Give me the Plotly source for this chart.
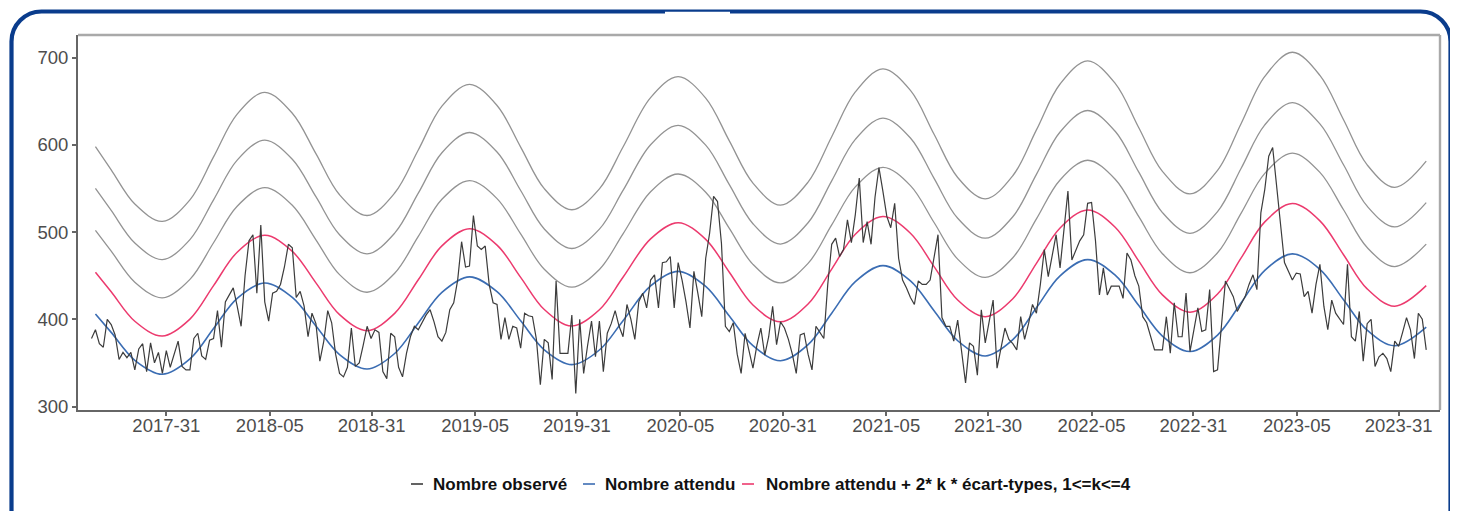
import numpy as np
import pandas as pd
import plotly.graph_objects as go

# ---------------- data ----------------
first_week = "2017-03-21"          # date of the first weekly observation
observed = [
    378, 388, 372, 368, 400, 394, 382, 354, 362, 356,
    362, 342, 366, 372, 340, 373, 350, 362, 338, 364,
    345, 360, 375, 346, 342, 342, 378, 384, 358, 354,
    376, 378, 410, 368, 420, 428, 436, 415, 392, 450,
    490, 497, 430, 508, 420, 398, 430, 432, 440, 460,
    486, 482, 425, 432, 415, 380, 407, 395, 352, 375,
    410, 396, 360, 338, 334, 345, 390, 346, 350, 370,
    392, 378, 388, 385, 340, 332, 384, 380, 345, 334,
    361, 380, 392, 388, 397, 405, 411, 397, 380, 375,
    385, 411, 419, 445, 489, 460, 461, 519, 484, 480,
    484, 440, 419, 417, 377, 402, 377, 392, 390, 367,
    407, 404, 403, 377, 325, 377, 373, 331, 444, 361,
    361, 361, 405, 315, 400, 338, 370, 398, 357, 398,
    340, 384, 395, 410, 392, 380, 417, 400, 377, 420,
    430, 413, 445, 451, 413, 465, 466, 472, 413, 465,
    445, 420, 390, 455, 430, 403, 470, 499, 541, 535,
    487, 392, 386, 396, 360, 338, 384, 364, 344, 370,
    390, 359, 380, 415, 371, 397, 390, 377, 360, 338,
    382, 384, 360, 342, 392, 385, 378, 440, 486, 493,
    472, 480, 514, 488, 520, 562, 488, 512, 486, 540,
    574, 547, 518, 505, 533, 470, 445, 436, 425, 417,
    444, 440, 440, 445, 470, 497, 402, 392, 392, 375,
    399, 360, 327, 373, 369, 336, 411, 373, 400, 422,
    344, 365, 390, 377, 372, 365, 403, 377, 395, 417,
    407, 440, 480, 449, 475, 497, 459, 500, 547, 468,
    478, 490, 497, 533, 534, 490, 428, 459, 428, 438,
    438, 438, 424, 476, 468, 450, 438, 403, 396, 380,
    365, 365, 365, 403, 361, 419, 380, 380, 430, 363,
    390, 413, 386, 388, 434, 340, 342, 395, 444, 435,
    426, 409, 418, 426, 440, 451, 434, 522, 549, 587,
    597, 553, 510, 465, 455, 445, 453, 452, 426, 432,
    407, 440, 463, 415, 388, 422, 407, 400, 394, 463,
    380, 375, 409, 352, 395, 400, 346, 357, 361, 355,
    340, 375, 369, 385, 402, 388, 355, 407, 400, 365,
]

# weeks (index from first_week) at which the expected curve was read
exp_week_index = [
    1, 5, 11, 18, 25, 31, 37, 44, 51, 57, 63, 70, 77, 83, 89, 96,
    103, 109, 115, 122, 129, 135, 142, 149, 156, 162, 168, 175,
    182, 188, 194, 201, 208, 214, 220, 227, 234, 240, 246, 253,
    260, 266, 272, 279, 286, 292, 298, 305, 312, 318, 324, 331, 339,
]
expected = [
    406, 385, 353, 337, 354.6, 389.4, 424.1, 441.7, 425.1, 392.4, 359.6, 343,
    360.8, 395.8, 430.8, 448.6, 431.6, 398.3, 365, 348, 364.8, 398.4, 438.2,
    455, 437.7, 403.8, 369.8, 352.5, 370.9, 407, 443.1, 461.5, 444.1, 409.8,
    375.4, 358, 376.6, 413.2, 449.8, 468.4, 450.6, 415.7, 380.8, 363, 381.9,
    419, 456.1, 475, 457.3, 422.4, 387.5, 369.7, 391,
]
ecart_type = [
    24.0, 23.3, 22.4, 21.9, 22.8, 24.6, 26.4, 27.3, 26.4, 24.7, 22.9, 22.0,
    23.0, 24.8, 26.7, 27.6, 26.7, 24.9, 23.1, 22.2, 23.1, 24.9, 27.0, 27.9,
    27.0, 25.1, 23.3, 22.3, 23.3, 25.3, 27.2, 28.2, 27.3, 25.3, 23.4, 22.5,
    23.5, 25.5, 27.5, 28.5, 27.5, 25.5, 23.6, 22.6, 23.6, 25.7, 27.8, 28.9,
    27.8, 25.8, 23.7, 22.7, 23.8,
]
k_values = [1, 2, 3, 4]

tick_dates = ["2017-08-01", "2018-02-01", "2018-08-01", "2019-02-01",
              "2019-08-01", "2020-02-01", "2020-08-01", "2021-02-01",
              "2021-08-01", "2022-02-01", "2022-08-01", "2023-02-01",
              "2023-08-01"]
tick_labels = ["2017-31", "2018-05", "2018-31", "2019-05", "2019-31",
               "2020-05", "2020-31", "2021-05", "2021-30", "2022-05",
               "2022-31", "2023-05", "2023-31"]
y_ticks = [300, 400, 500, 600, 700]

legend_labels = ["Nombre observé", "Nombre attendu",
                 "Nombre attendu + 2* k * écart-types, 1&lt;=k&lt;=4"]

# ---------------- styling ----------------
C_OBS = "#3c3c3c"
C_EXP = "#3b6db3"
C_THR = "#ec3a6e"
C_GREY = "#939393"
C_FRAME = "#0a3c8c"

OFF = 8                      # page offset of the figure (body margin)
W, H = 1458 - OFF, 511 - OFF
L, R, T, B = 78 - OFF, 1440 - OFF, 35 - OFF, 410 - OFF


def px(x_page):
    return (x_page - OFF - L) / (R - L)


def py(y_page):
    return (B - (y_page - OFF)) / (B - T)


obs_dates = pd.date_range(first_week, periods=len(observed), freq="7D")
exp_dates = pd.Timestamp(first_week) + pd.to_timedelta(
    np.array(exp_week_index) * 7, unit="D")

fig = go.Figure()

for k in k_values[::-1]:
    thr = [e + 2 * k * s for e, s in zip(expected, ecart_type)]
    fig.add_trace(go.Scatter(
        x=exp_dates, y=thr, mode="lines",
        line=dict(color=C_THR if k == 1 else C_GREY, width=1.5 if k == 1 else 1.3,
                  shape="spline", smoothing=1.0),
        name=f"k={k}", showlegend=False, hoverinfo="skip"))

fig.add_trace(go.Scatter(
    x=exp_dates, y=expected, mode="lines",
    line=dict(color=C_EXP, width=1.6, shape="spline", smoothing=1.0),
    name="Nombre attendu", showlegend=False))

fig.add_trace(go.Scatter(
    x=obs_dates, y=observed, mode="lines",
    line=dict(color=C_OBS, width=1.2),
    name="Nombre observé", showlegend=False))

shapes = []
# rounded outer frame (bottom edge is outside the page)
x0, x1, y0, yb, r = 11.5, 1450.5, 11.5, 580, 30
c = 0.448
path = (f"M {px(x0)},{py(yb)} L {px(x0)},{py(y0 + r)} "
        f"C {px(x0)},{py(y0 + r * c)} {px(x0 + r * c)},{py(y0)} {px(x0 + r)},{py(y0)} "
        f"L {px(x1 - r)},{py(y0)} "
        f"C {px(x1 - r * c)},{py(y0)} {px(x1)},{py(y0 + r * c)} {px(x1)},{py(y0 + r)} "
        f"L {px(x1)},{py(yb)}")
shapes.append(dict(type="path", xref="paper", yref="paper", path=path,
                   line=dict(color=C_FRAME, width=4.2), layer="above"))
# small notch in the top of the frame
shapes.append(dict(type="rect", xref="paper", yref="paper",
                   x0=px(665), x1=px(730), y0=py(14.5), y1=py(11.7),
                   fillcolor="white", line=dict(width=0), layer="above"))
# panel border top and right
shapes.append(dict(type="line", xref="paper", yref="paper", x0=0, x1=1, y0=1, y1=1,
                   line=dict(color="#a9a9a9", width=2.4)))
shapes.append(dict(type="line", xref="paper", yref="paper", x0=1, x1=1, y0=0, y1=1,
                   line=dict(color="#a9a9a9", width=2.4)))

# manual legend
leg_y = py(484)
leg_items = [(411, 423, 431, C_OBS), (583, 595, 603, C_EXP), (742, 754, 764, C_THR)]
annotations = []
for (lx0, lx1, tx, col), lab in zip(leg_items, legend_labels):
    shapes.append(dict(type="line", xref="paper", yref="paper",
                       x0=px(lx0), x1=px(lx1), y0=leg_y, y1=leg_y,
                       line=dict(color=col, width=1.6)))
    annotations.append(dict(xref="paper", yref="paper", x=px(tx), y=leg_y,
                            xanchor="left", yanchor="middle", showarrow=False,
                            text=f"<b>{lab}</b>",
                            font=dict(family="Liberation Sans, Arial, sans-serif",
                                      size=17, color="#111111")))

fig.update_layout(
    width=W, height=H,
    template="none",
    paper_bgcolor="white", plot_bgcolor="white",
    margin=dict(l=L, r=W - R, t=T, b=H - B, pad=0),
    showlegend=False,
    shapes=shapes,
    annotations=annotations,
    font=dict(family="Liberation Sans, Arial, sans-serif", size=18.5, color="#4d4d4d"),
)
fig.update_xaxes(
    type="date", range=["2017-02-25", "2023-10-13 12:00"],
    tickvals=tick_dates, ticktext=tick_labels,
    showgrid=False, zeroline=False,
    showline=True, linecolor="#666666", linewidth=2,
    ticks="outside", ticklen=4, tickwidth=1.5, tickcolor="#666666",
    tickfont=dict(size=18.5, color="#4d4d4d"),
    ticklabelstandoff=-6,
    automargin=False,
)
fig.update_yaxes(
    range=[296, 726], tickvals=y_ticks,
    showgrid=False, zeroline=False,
    showline=True, linecolor="#666666", linewidth=2,
    ticks="outside", ticklen=4, tickwidth=1.5, tickcolor="#666666",
    tickfont=dict(size=18.5, color="#4d4d4d"),
    automargin=False,
)

fig.write_html("out.html")
